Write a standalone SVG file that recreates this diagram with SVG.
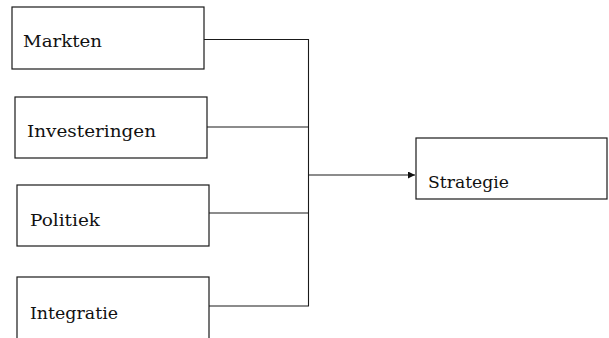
<svg xmlns="http://www.w3.org/2000/svg" width="609" height="338" viewBox="0 0 609 338">
<defs>
<style>
.box{fill:#fff;stroke:#1a1a1a;stroke-width:1.2}
.lbl{font-family:"DejaVu Serif","Liberation Serif",serif;font-size:16.5px;fill:#111}
.con{fill:none;stroke:#1a1a1a;stroke-width:1.1}
</style>
<marker id="arr" viewBox="0 0 10 10" refX="10" refY="5" markerWidth="7" markerHeight="7" markerUnits="userSpaceOnUse" orient="auto">
<path d="M0,0 L10,5 L0,10 z" fill="#111"/>
</marker>
</defs>
<rect width="609" height="338" fill="#fff"/>
<g id="connectors">
<path class="con" d="M204,39.5 H308.5 V306 H209"/>
<path class="con" d="M207,127 H308.5"/>
<path class="con" d="M209,213 H308.5"/>
<path class="con" d="M308.5,175 H415" marker-end="url(#arr)"/>
</g>
<g id="markten">
<rect class="box" x="12" y="7" width="192" height="62"/>
<text class="lbl" x="23" y="47" textLength="79" lengthAdjust="spacingAndGlyphs">Markten</text>
</g>
<g id="investeringen">
<rect class="box" x="15" y="97" width="192" height="61"/>
<text class="lbl" x="27" y="137" textLength="129" lengthAdjust="spacingAndGlyphs">Investeringen</text>
</g>
<g id="politiek">
<rect class="box" x="17" y="185" width="192" height="61"/>
<text class="lbl" x="30" y="225.5" textLength="70" lengthAdjust="spacingAndGlyphs">Politiek</text>
</g>
<g id="integratie">
<rect class="box" x="17" y="277" width="192" height="70"/>
<text class="lbl" x="30" y="319" textLength="88" lengthAdjust="spacingAndGlyphs">Integratie</text>
</g>
<g id="strategie">
<rect class="box" x="416" y="138" width="191" height="61"/>
<text class="lbl" x="428" y="188" textLength="81" lengthAdjust="spacingAndGlyphs">Strategie</text>
</g>
</svg>
